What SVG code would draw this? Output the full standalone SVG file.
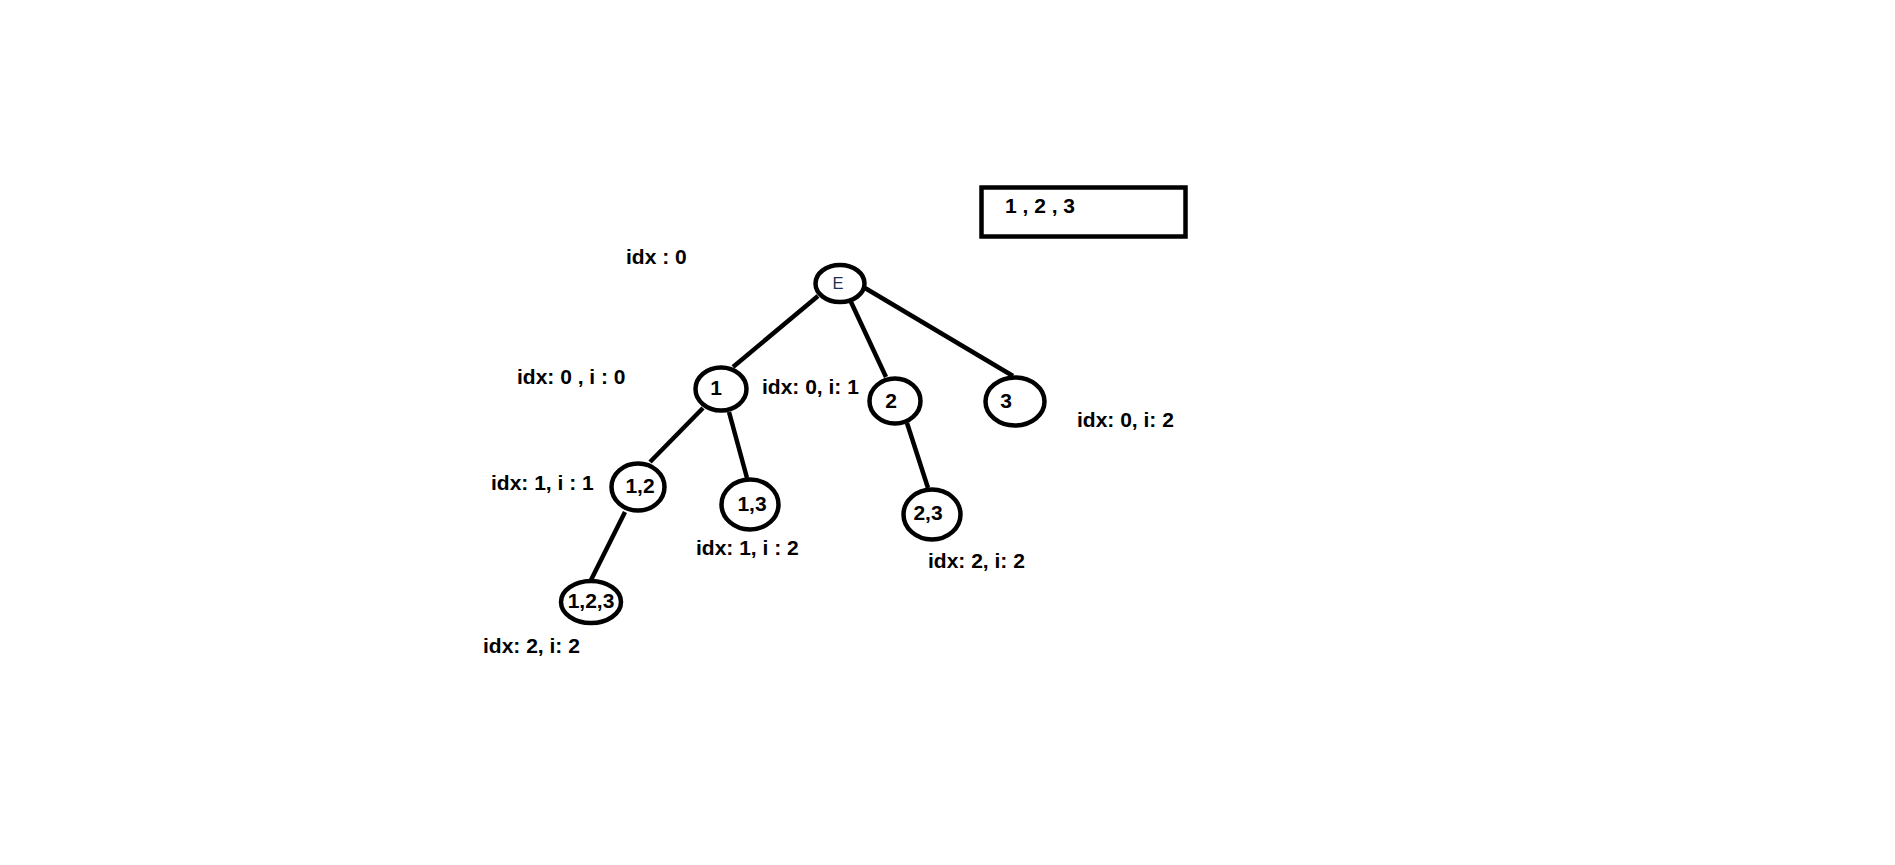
<svg xmlns="http://www.w3.org/2000/svg" width="1895" height="865" viewBox="0 0 1895 865">
<style>
.n{fill:#fff;stroke:#000;stroke-width:4.5}
.t{font-family:"Liberation Sans",Arial,sans-serif;font-weight:bold;font-size:21px;fill:#000}
.c{text-anchor:middle}
.e{stroke:#000;stroke-width:4.5;fill:none}
</style>
<rect width="1895" height="865" fill="#fff"/>
<g id="connectors">
<line class="e" x1="818" y1="296" x2="733" y2="367"/>
<line class="e" x1="851" y1="302" x2="886" y2="377"/>
<line class="e" x1="865" y1="288" x2="1013" y2="376"/>
<line class="e" x1="703" y1="408" x2="650" y2="462"/>
<line class="e" x1="729" y1="412" x2="747" y2="478"/>
<line class="e" x1="625" y1="512" x2="590" y2="582"/>
<line class="e" x1="907" y1="423" x2="928" y2="488"/>
</g>
<g id="array">
<rect x="981.5" y="187.5" width="204" height="49" fill="none" stroke="#000" stroke-width="4.5"/>
<text class="t" x="1005" y="213">1 , 2 , 3</text>
</g>
<g id="node-E">
<ellipse class="n" cx="840" cy="283.5" rx="24.5" ry="18.5"/>
<text x="838" y="289" text-anchor="middle" font-family="Liberation Sans,Arial,sans-serif" font-size="16.5" fill="#1e2f55">E</text>
</g>
<g id="node-1">
<ellipse class="n" cx="721" cy="389" rx="25.5" ry="21.5"/>
<text class="t c" x="716" y="395">1</text>
</g>
<g id="node-2">
<ellipse class="n" cx="895" cy="401" rx="25.5" ry="22.5"/>
<text class="t c" x="891" y="408">2</text>
</g>
<g id="node-3">
<ellipse class="n" cx="1015" cy="401.5" rx="29.5" ry="24"/>
<text class="t c" x="1006" y="408">3</text>
</g>
<g id="node-12">
<ellipse class="n" cx="638" cy="487" rx="26.5" ry="23.5"/>
<text class="t c" x="640" y="493">1,2</text>
</g>
<g id="node-13">
<ellipse class="n" cx="750" cy="504.5" rx="28.5" ry="25"/>
<text class="t c" x="752" y="511">1,3</text>
</g>
<g id="node-23">
<ellipse class="n" cx="932" cy="514.5" rx="28.5" ry="25"/>
<text class="t c" x="928" y="520">2,3</text>
</g>
<g id="node-123">
<ellipse class="n" cx="591" cy="602" rx="30" ry="21"/>
<text class="t c" x="591" y="608">1,2,3</text>
</g>
<g id="labels">
<text class="t" x="626" y="264">idx : 0</text>
<text class="t" x="517" y="384">idx: 0 , i : 0</text>
<text class="t" x="762" y="394">idx: 0, i: 1</text>
<text class="t" x="1077" y="427">idx: 0, i: 2</text>
<text class="t" x="491" y="490">idx: 1, i : 1</text>
<text class="t" x="696" y="555">idx: 1, i : 2</text>
<text class="t" x="928" y="568">idx: 2, i: 2</text>
<text class="t" x="483" y="653">idx: 2, i: 2</text>
</g>
</svg>
